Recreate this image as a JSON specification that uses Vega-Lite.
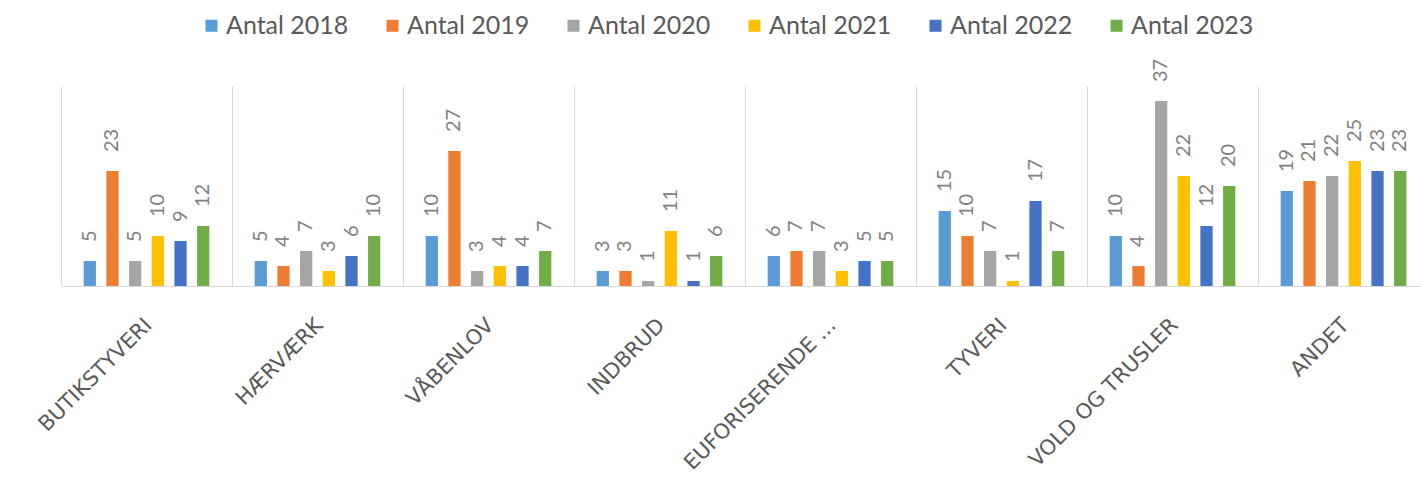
{
  "$schema": "https://vega.github.io/schema/vega-lite/v6.json",
  "width": 1368,
  "height": 200,
  "autosize": {"type": "none"},
  "padding": {"left": 61, "top": 86, "right": 0, "bottom": 206},
  "config": {"view": {"stroke": null}},
  "data": {
    "values": [
      {"kategori": "Butikstyveri", "serie": "Antal 2018", "antal": 5},
      {"kategori": "Butikstyveri", "serie": "Antal 2019", "antal": 23},
      {"kategori": "Butikstyveri", "serie": "Antal 2020", "antal": 5},
      {"kategori": "Butikstyveri", "serie": "Antal 2021", "antal": 10},
      {"kategori": "Butikstyveri", "serie": "Antal 2022", "antal": 9},
      {"kategori": "Butikstyveri", "serie": "Antal 2023", "antal": 12},
      {"kategori": "Hærværk", "serie": "Antal 2018", "antal": 5},
      {"kategori": "Hærværk", "serie": "Antal 2019", "antal": 4},
      {"kategori": "Hærværk", "serie": "Antal 2020", "antal": 7},
      {"kategori": "Hærværk", "serie": "Antal 2021", "antal": 3},
      {"kategori": "Hærværk", "serie": "Antal 2022", "antal": 6},
      {"kategori": "Hærværk", "serie": "Antal 2023", "antal": 10},
      {"kategori": "Våbenlov", "serie": "Antal 2018", "antal": 10},
      {"kategori": "Våbenlov", "serie": "Antal 2019", "antal": 27},
      {"kategori": "Våbenlov", "serie": "Antal 2020", "antal": 3},
      {"kategori": "Våbenlov", "serie": "Antal 2021", "antal": 4},
      {"kategori": "Våbenlov", "serie": "Antal 2022", "antal": 4},
      {"kategori": "Våbenlov", "serie": "Antal 2023", "antal": 7},
      {"kategori": "Indbrud", "serie": "Antal 2018", "antal": 3},
      {"kategori": "Indbrud", "serie": "Antal 2019", "antal": 3},
      {"kategori": "Indbrud", "serie": "Antal 2020", "antal": 1},
      {"kategori": "Indbrud", "serie": "Antal 2021", "antal": 11},
      {"kategori": "Indbrud", "serie": "Antal 2022", "antal": 1},
      {"kategori": "Indbrud", "serie": "Antal 2023", "antal": 6},
      {"kategori": "Euforiserende ...", "serie": "Antal 2018", "antal": 6},
      {"kategori": "Euforiserende ...", "serie": "Antal 2019", "antal": 7},
      {"kategori": "Euforiserende ...", "serie": "Antal 2020", "antal": 7},
      {"kategori": "Euforiserende ...", "serie": "Antal 2021", "antal": 3},
      {"kategori": "Euforiserende ...", "serie": "Antal 2022", "antal": 5},
      {"kategori": "Euforiserende ...", "serie": "Antal 2023", "antal": 5},
      {"kategori": "Tyveri", "serie": "Antal 2018", "antal": 15},
      {"kategori": "Tyveri", "serie": "Antal 2019", "antal": 10},
      {"kategori": "Tyveri", "serie": "Antal 2020", "antal": 7},
      {"kategori": "Tyveri", "serie": "Antal 2021", "antal": 1},
      {"kategori": "Tyveri", "serie": "Antal 2022", "antal": 17},
      {"kategori": "Tyveri", "serie": "Antal 2023", "antal": 7},
      {"kategori": "Vold og trusler", "serie": "Antal 2018", "antal": 10},
      {"kategori": "Vold og trusler", "serie": "Antal 2019", "antal": 4},
      {"kategori": "Vold og trusler", "serie": "Antal 2020", "antal": 37},
      {"kategori": "Vold og trusler", "serie": "Antal 2021", "antal": 22},
      {"kategori": "Vold og trusler", "serie": "Antal 2022", "antal": 12},
      {"kategori": "Vold og trusler", "serie": "Antal 2023", "antal": 20},
      {"kategori": "Andet", "serie": "Antal 2018", "antal": 19},
      {"kategori": "Andet", "serie": "Antal 2019", "antal": 21},
      {"kategori": "Andet", "serie": "Antal 2020", "antal": 22},
      {"kategori": "Andet", "serie": "Antal 2021", "antal": 25},
      {"kategori": "Andet", "serie": "Antal 2022", "antal": 23},
      {"kategori": "Andet", "serie": "Antal 2023", "antal": 23}
    ]
  },
  "encoding": {
    "x": {
      "field": "kategori",
      "type": "nominal",
      "sort": ["Butikstyveri", "Hærværk", "Våbenlov", "Indbrud", "Euforiserende ...", "Tyveri", "Vold og trusler", "Andet"],
      "scale": {"paddingInner": 0, "paddingOuter": 0},
      "axis": {
        "title": null,
        "grid": true,
        "tickBand": "extent",
        "gridColor": "#d9d9d9",
        "domainColor": "#d9d9d9",
        "ticks": false,
        "labelAngle": -45,
        "labelFont": "DejaVu Sans",
        "labelFontSize": 21,
        "labelLimit": 400,
        "labelColor": "#595959",
        "labelPadding": 28,
        "labelOffset": -6,
        "labelExpr": "upper(datum.label)"
      }
    },
    "xOffset": {
      "field": "serie",
      "type": "nominal",
      "sort": ["Antal 2018", "Antal 2019", "Antal 2020", "Antal 2021", "Antal 2022", "Antal 2023"],
      "scale": {"paddingInner": 0.46, "paddingOuter": 1.152}
    },
    "y": {
      "field": "antal",
      "type": "quantitative",
      "scale": {"domain": [0, 40]},
      "axis": null
    }
  },
  "layer": [
    {
      "mark": {"type": "bar"},
      "encoding": {
        "color": {
          "field": "serie",
          "type": "nominal",
          "scale": {
            "domain": ["Antal 2018", "Antal 2019", "Antal 2020", "Antal 2021", "Antal 2022", "Antal 2023"],
            "range": ["#5B9BD5", "#ED7D31", "#A5A5A5", "#FFC000", "#4472C4", "#70AD47"]
          },
          "legend": {
            "orient": "none",
            "legendX": 138,
            "legendY": -73,
            "direction": "horizontal",
            "title": null,
            "symbolType": "square",
            "symbolSize": 144,
            "symbolStrokeWidth": 0,
            "labelFont": "Lato",
            "labelFontSize": 25,
            "labelColor": "#595959",
            "labelOffset": 2,
            "columnPadding": 31
          }
        }
      }
    },
    {
      "mark": {"type": "text", "angle": 270, "align": "left", "baseline": "middle", "dx": 19, "font": "Lato", "fontSize": 20, "color": "#808080"},
      "encoding": {"text": {"field": "antal", "type": "quantitative"}}
    }
  ]
}
